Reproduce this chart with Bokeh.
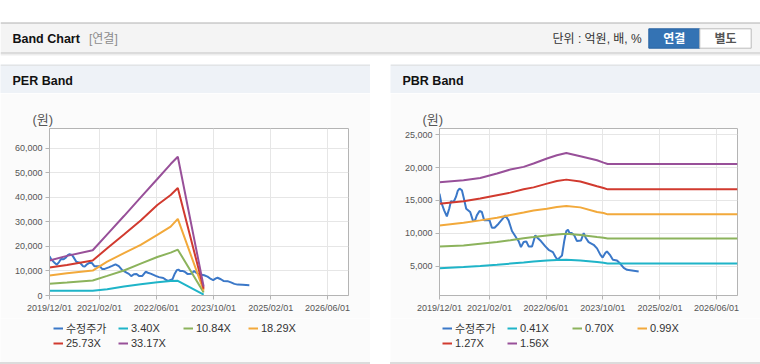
import pandas as pd
from bokeh.plotting import figure
from bokeh.models import (Range1d, FixedTicker, NumeralTickFormatter, DatetimeTickFormatter,
                          Legend, LegendItem, Label, BoxAnnotation, Span, Spacer)
from bokeh.layouts import column, row
from bokeh.embed import file_html
from bokeh.resources import INLINE

LATIN = "Liberation Sans"
MIX = "Liberation Sans, Noto Sans CJK KR"

# ---------------- data ----------------
PRICE_LABEL = "수정주가"
PRICE_DATES = ["2019-12-01", "2019-12-15", "2020-01-10", "2020-02-02", "2020-02-22", "2020-03-08",
               "2020-03-31", "2020-04-20", "2020-05-05", "2020-05-21", "2020-06-10", "2020-06-24",
               "2020-07-17", "2020-08-20", "2020-09-12", "2020-09-29", "2020-10-16", "2020-11-08",
               "2020-11-28", "2020-12-18", "2021-01-10", "2021-02-02", "2021-02-22", "2021-03-17",
               "2021-04-20", "2021-05-19", "2021-06-17", "2021-07-15", "2021-08-13", "2021-09-19",
               "2021-10-09", "2021-10-29", "2021-11-21", "2021-12-14", "2022-01-03", "2022-02-01",
               "2022-03-01", "2022-03-21", "2022-04-18", "2022-05-26", "2022-06-23", "2022-07-30",
               "2022-08-19", "2022-09-08", "2022-10-01", "2022-10-16", "2022-11-05", "2022-11-22",
               "2022-12-06", "2022-12-20", "2023-01-09", "2023-01-29", "2023-02-21", "2023-03-28",
               "2023-04-20", "2023-05-07", "2023-06-01", "2023-07-14", "2023-08-12", "2023-09-09",
               "2023-09-29", "2023-10-22", "2023-11-05", "2023-12-04", "2023-12-26", "2024-01-30",
               "2024-02-28", "2024-03-28", "2024-04-25", "2024-06-07", "2024-08-03"]
PRICE = [16040, 14770, 13500, 12580, 13750, 14880, 14770, 15540, 16450, 16810, 16550, 15540,
         13750, 13240, 11970, 11870, 12730, 13400, 13240, 11970, 11970, 11970, 10850, 10850,
         11460, 12070, 12730, 11970, 10340, 9320, 8810, 7890, 8660, 8760, 8000, 8000,
         9680, 9270, 8810, 8000, 7490, 7130, 6470, 5960, 6370, 6620, 8910, 10340,
         10540, 10030, 10030, 9680, 8810, 8910, 10030, 9320, 8660, 8250, 7700, 6750,
         6300, 7000, 7250, 6620, 5960, 5860, 5350, 4740, 4440, 4340, 4190]

PER_DATES = ["2019-12-01", "2020-04-28", "2020-12-04", "2021-04-07", "2021-08-28",
             "2022-01-18", "2022-06-09", "2022-10-01", "2022-12-01", "2023-07-10"]
PER_LABELS = ["3.40X", "10.84X", "18.29X", "25.73X", "33.17X"]
PER_340 = [1900, 1900, 1900, 2590, 3680, 4630, 5450, 5900, 6000, 400]
PER_1084 = [4760, 5300, 6120, 8000, 10200, 13000, 15700, 17500, 18700, 1200]
PER_1829 = [8140, 9090, 10180, 13840, 17240, 20630, 24700, 28090, 31250, 2000]
PER_2573 = [11400, 12480, 14250, 19270, 24900, 30600, 36900, 41000, 43800, 2800]
PER_3317 = [14260, 16150, 18460, 24900, 32400, 40000, 47500, 53600, 56600, 3600]

PBR_DATES = ["2019-12-01", "2020-06-24", "2020-11-14", "2021-04-07", "2021-07-30",
             "2021-11-21", "2022-02-14", "2022-06-09", "2022-09-02", "2022-11-22",
             "2023-03-22", "2023-08-12", "2023-10-07", "2023-11-11", "2026-11-28"]
PBR_LABELS = ["0.41X", "0.70X", "0.99X", "1.27X", "1.56X"]
PBR_041 = [4690, 4850, 5000, 5200, 5380, 5560, 5700, 5860, 5920, 5960, 5860, 5610, 5500, 5400, 5400]
PBR_070 = [7990, 8150, 8410, 8660, 8940, 9250, 9420, 9680, 9830, 9940, 9750, 9420, 9320, 9220, 9220]
PBR_099 = [11200, 11610, 11970, 12380, 12780, 13170, 13480, 13750, 14010, 14160, 13950, 13240, 13090, 12890, 12890]
PBR_127 = [14520, 14880, 15290, 15800, 16200, 16700, 17000, 17570, 17980, 18180, 17900, 17160, 16900, 16700, 16700]
PBR_156 = [17780, 18090, 18440, 19100, 19720, 20120, 20630, 21390, 21900, 22250, 21740, 21130, 20770, 20570, 20570]

X_START = "2019-12-01"
X_END = "2026-11-28"
X_TICKS = ["2019-12-01", "2021-02-01", "2022-06-01", "2023-10-01", "2025-02-01", "2026-06-01"]
X_TICK_LABELS = ["2019/12/01", "2021/02/01", "2022/06/01", "2023/10/01", "2025/02/01", "2026/06/01"]
PER_Y_RANGE = (0, 68100)
PER_Y_TICKS = [0, 10000, 20000, 30000, 40000, 50000, 60000]
PBR_Y_RANGE = (520, 25970)
PBR_Y_TICKS = [5000, 10000, 15000, 20000, 25000]

COLORS = ["#3b78c8", "#1fb4c8", "#8cb35c", "#f2a93b", "#d13a2f", "#985099"]

PANEL_BG = "#fbfbfb"
BAND_BG = "#eef2f7"
AXIS_C = "#b4b4b4"
GRID_C = "#e6e6e6"
TEXT_C = "#555555"


def dt(s):
    return pd.Timestamp(s).to_pydatetime()


def ms(s):
    return pd.Timestamp(s).value / 1e6


# ---------------- header (reference pixel coordinates, y flipped) ----------------
def hy(ry):
    return 64 - ry


hdr = figure(width=760, height=64, x_range=Range1d(0, 760), y_range=Range1d(0, 64),
             x_axis_type=None, y_axis_type=None, output_backend="svg", toolbar_location=None,
             min_border=0, outline_line_color=None,
             background_fill_color="white", border_fill_color="white")
hdr.add_layout(BoxAnnotation(left=0, right=760, top=hy(22.5), bottom=hy(53), fill_color="#f4f4f4",
                             fill_alpha=1, line_alpha=0))
hdr.add_layout(Span(location=hy(22.5), dimension="width", line_color="#b0b0b0", line_width=1))
hdr.add_layout(Span(location=hy(52.5), dimension="width", line_color="#c2c2c2", line_width=1))
hdr.add_layout(Span(location=hy(53.5), dimension="width", line_color="#dadada", line_width=1))
hdr.add_layout(Span(location=hy(54.5), dimension="width", line_color="#eeeeee", line_width=1))
hdr.add_layout(BoxAnnotation(left=648.3, right=699.3, top=hy(28.3), bottom=hy(47.7),
                             fill_color="#3473b4", fill_alpha=1, line_color="#2b64a3", line_alpha=1,
                             line_width=1, line_dash="solid"))
hdr.add_layout(BoxAnnotation(left=699.3, right=750.7, top=hy(28.3), bottom=hy(47.7),
                             fill_color="white", fill_alpha=1, line_color="#bbbbbb", line_alpha=1,
                             line_width=1, line_dash="solid"))
hdr.add_layout(Label(x=12, y=hy(38), text="Band Chart", text_font=LATIN, text_font_size="12.5px",
                     text_font_style="bold", text_color="#111111", text_baseline="middle"))
hdr.add_layout(Label(x=88.5, y=hy(38), text="[연결]", text_font=MIX, text_font_size="12px",
                     text_color="#8c8c8c", text_baseline="middle"))
hdr.add_layout(Label(x=552, y=hy(38.5), text="단위 : 억원, 배, %", text_font=MIX, text_font_size="12px",
                     text_color="#333333", text_baseline="middle"))
hdr.add_layout(Label(x=673.8, y=hy(38), text="연결", text_font=MIX, text_font_size="12px",
                     text_font_style="bold", text_color="white", text_baseline="middle",
                     text_align="center"))
hdr.add_layout(Label(x=725, y=hy(38), text="별도", text_font=MIX, text_font_size="12px",
                     text_font_style="bold", text_color="#555555", text_baseline="middle",
                     text_align="center"))


# ---------------- panels ----------------
def band(title, x0):
    b = figure(width=370, height=29, x_range=Range1d(x0, x0 + 370), y_range=Range1d(0, 29),
               x_axis_type=None, y_axis_type=None, output_backend="svg", toolbar_location=None,
               min_border=0, outline_line_color=None,
               background_fill_color=BAND_BG, border_fill_color=BAND_BG)
    b.add_layout(Span(location=28.5, dimension="width", line_color="#d6d6d6", line_width=1))
    b.add_layout(Label(x=x0 + 12, y=93 - 80.5, text=title, text_font=LATIN, text_font_size="12.5px",
                       text_font_style="bold", text_color="#111111", text_baseline="middle"))
    return b


def chart(band_dates, bands, y_range, y_ticks, b_left, b_right):
    p = figure(width=370, height=225, x_axis_type="datetime",
               x_range=Range1d(dt(X_START), dt(X_END)), y_range=Range1d(*y_range),
               output_backend="svg", toolbar_location=None,
               min_border_left=b_left, min_border_right=b_right, min_border_top=35,
               min_border_bottom=23,
               background_fill_color="white", border_fill_color=PANEL_BG,
               outline_line_color=AXIS_C, title="(원)")
    p.title.align = "left"
    p.title.offset = -17
    p.title.standoff = 4
    p.title.text_font = MIX
    p.title.text_font_size = "13px"
    p.title.text_font_style = "normal"
    p.title.text_color = TEXT_C

    xt = FixedTicker(ticks=[ms(d) for d in X_TICKS])
    yt = FixedTicker(ticks=y_ticks)
    xa = p.xaxis[0]
    xa.ticker = xt
    fmt = "%Y/%m/%d"
    xa.formatter = DatetimeTickFormatter(microseconds=fmt, milliseconds=fmt, seconds=fmt, minsec=fmt,
                                         minutes=fmt, hourmin=fmt, hours=fmt, days=fmt,
                                         months=fmt, years=fmt)
    xa.major_label_overrides = {ms(d): lab for d, lab in zip(X_TICKS, X_TICK_LABELS)}
    ya = p.yaxis[0]
    ya.ticker = yt
    ya.formatter = NumeralTickFormatter(format="0,0")
    for ax in (xa, ya):
        ax.axis_line_color = AXIS_C
        ax.major_tick_line_color = AXIS_C
        ax.major_tick_in = 0
        ax.major_tick_out = 4
        ax.minor_tick_line_color = None
        ax.major_label_text_font = LATIN
        ax.major_label_text_font_size = "9px"
        ax.major_label_text_color = TEXT_C
        ax.major_label_standoff = 3
    p.xgrid.ticker = xt
    p.ygrid.ticker = yt
    p.xgrid.grid_line_color = GRID_C
    p.ygrid.grid_line_color = GRID_C

    p.line(x=pd.to_datetime(PRICE_DATES), y=PRICE, line_color=COLORS[0], line_width=2)
    bx = pd.to_datetime(band_dates)
    for vals, col in zip(bands, COLORS[1:]):
        p.line(x=bx, y=vals, line_color=col, line_width=2)
    return p


def legend_fig(band_labels, x0, first_x):
    f = figure(width=370, height=44, x_range=Range1d(0, 1), y_range=Range1d(0, 1),
               x_axis_type=None, y_axis_type=None, output_backend="svg", toolbar_location=None,
               min_border=0, outline_line_color=None,
               background_fill_color=PANEL_BG, border_fill_color=PANEL_BG)
    items = []
    for lab, col in zip([PRICE_LABEL] + band_labels, COLORS):
        # legend proxy line kept outside the visible range
        r = f.line(x=[5, 6], y=[5, 6], line_color=col, line_width=2)
        items.append(LegendItem(label=lab, renderers=[r]))
    leg = Legend(items=items, orientation="horizontal", ncols=4, location=(first_x - x0, 13),
                 padding=0, margin=0, spacing=1, glyph_width=10, glyph_height=12,
                 label_height=12, label_width=51, label_standoff=3,
                 label_text_font=MIX, label_text_font_size="11px", label_text_color="#333333",
                 background_fill_alpha=0, border_line_alpha=0)
    f.add_layout(leg)
    return f


left_chart = chart(PER_DATES, [PER_340, PER_1084, PER_1829, PER_2573, PER_3317],
                   PER_Y_RANGE, PER_Y_TICKS, 49, 22)
right_chart = chart(PBR_DATES, [PBR_041, PBR_070, PBR_099, PBR_127, PBR_156],
                    PBR_Y_RANGE, PBR_Y_TICKS, 49, 23)

band_row = row(band("PER Band", 0), Spacer(width=20, height=29), band("PBR Band", 390), spacing=0)
chart_row = row(left_chart, Spacer(width=20, height=225), right_chart, spacing=0)
legend_row = row(legend_fig(PER_LABELS, 0, 53), Spacer(width=20, height=44),
                 legend_fig(PBR_LABELS, 390, 442), spacing=0)
line_row = row(Spacer(width=370, height=2, styles={"background-color": "#dcdcdc"}),
               Spacer(width=20, height=2),
               Spacer(width=370, height=2, styles={"background-color": "#dcdcdc"}), spacing=0)
page = column(hdr, band_row, chart_row, legend_row, line_row, spacing=0)

open("out.html", "w").write(file_html(page, INLINE))
